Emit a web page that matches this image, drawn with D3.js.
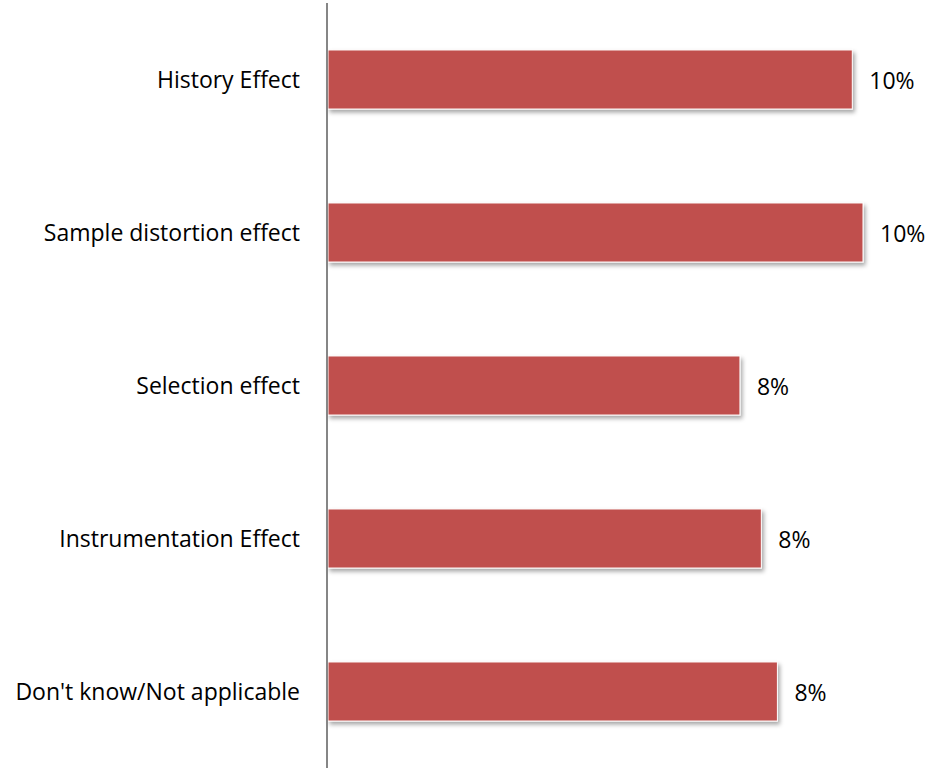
<!DOCTYPE html>
<html>
<head>
<meta charset="utf-8">
<script src="https://cdn.jsdelivr.net/npm/d3@7"></script>
<style>
  body { margin: 0; background: #fff; }
  text { font-family: "Open Sans", sans-serif; fill: #000; }
</style>
</head>
<body>
<div id="chart"></div>
<script>
(() => {

  let categories = [
    "History Effect",
    "Sample distortion effect",
    "Selection effect",
    "Instrumentation Effect",
    "Don't know/Not applicable"
  ]
  let values = [9.8, 10.0, 7.7, 8.1, 8.4]

  let data = categories.map((c, i) => ({category: c, value: values[i]}))

  let svg = d3.select("#chart")
  .append("svg")
  .attr("width", 930)
  .attr("height", 770)

  // soft shadow like the office chart
  let defs = svg.append("defs")
  let f = defs.append("filter")
  .attr("id", "shadow")
  .attr("x", "-5%").attr("y", "-20%")
  .attr("width", "115%").attr("height", "160%")
  f.append("feDropShadow")
  .attr("dx", 2).attr("dy", 3)
  .attr("stdDeviation", 2)
  .attr("flood-color", "#000")
  .attr("flood-opacity", 0.35)

  let axis_x = 327

  //Y axis (categories)
  let y = d3.scaleBand()
  .domain(categories)
  .range([3, 768])
  .paddingInner(0.614)
  .paddingOuter(0.307)

  //X axis (values)
  let x = d3.scaleLinear()
  .domain([0, 10])
  .range([axis_x + 1, 863])

  let fmt = v => d3.format(".0%")(v / 100)

  svg.selectAll(".bar")
  .data(data)
  .enter()
  .append("rect")
  .attr("class", "bar")
  .attr("x", x(0))
  .attr("y", d => y(d.category))
  .attr("width", d => x(d.value) - x(0))
  .attr("height", y.bandwidth())
  .attr("fill", "#C0504D")
  .attr("stroke", "#fff")
  .attr("stroke-width", 1)
  .attr("filter", "url(#shadow)")

  // category labels
  svg.selectAll(".cat_label")
  .data(data)
  .enter()
  .append("text")
  .attr("class", "cat_label")
  .attr("x", axis_x - 27)
  .attr("y", d => y(d.category) + y.bandwidth() / 2)
  .attr("dy", "0.38em")
  .attr("text-anchor", "end")
  .style("font-size", "23px")
  .text(d => d.category)

  // value labels
  svg.selectAll(".val_label")
  .data(data)
  .enter()
  .append("text")
  .attr("class", "val_label")
  .attr("x", d => x(d.value) + 17)
  .attr("y", d => y(d.category) + y.bandwidth() / 2)
  .attr("dy", "0.42em")
  .style("font-size", "23px")
  .text(d => fmt(d.value))

  // vertical axis line
  svg.append("line")
  .attr("x1", axis_x).attr("x2", axis_x)
  .attr("y1", y.range()[0]).attr("y2", y.range()[1])
  .attr("stroke", "#868686")
  .attr("stroke-width", 2)

})()
</script>
</body>
</html>
